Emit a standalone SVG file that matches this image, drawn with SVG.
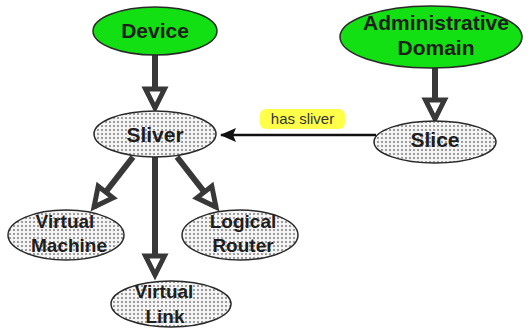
<svg xmlns="http://www.w3.org/2000/svg" width="532" height="329" viewBox="0 0 532 329">
  <style>
    .root { fill: #12e012; stroke: #2a2a2a; stroke-width: 1.5; }
    .part { fill: url(#dots); stroke: #2a2a2a; stroke-width: 1.5; }
    .lbl { font-family: "Liberation Sans", Arial, sans-serif; font-weight: bold; fill: #1e1e1e; text-anchor: middle; }
    .big { font-size: 21px; }
    .small { font-size: 19px; }
    .link { stroke: #383838; stroke-width: 6; fill: none; marker-end: url(#hollow); }
    .rel { stroke: #111; stroke-width: 2.5; fill: none; marker-end: url(#solid); }
    .tag { fill: #ffff4a; }
    .tagtxt { font-family: "Liberation Sans", Arial, sans-serif; font-size: 15px; fill: #333; text-anchor: middle; }
  </style>
  <defs>
    <pattern id="dots" width="4" height="4" patternUnits="userSpaceOnUse">
      <rect width="4" height="4" fill="#f4f4f4"/>
      <circle cx="2" cy="2" r="0.8" fill="#2e2e2e"/>
    </pattern>
    <marker id="hollow" markerUnits="userSpaceOnUse" viewBox="-5 -5 30 30" markerWidth="30" markerHeight="30" refX="19" refY="9.5" orient="auto">
      <path d="M0,0 L19,9.5 L0,19 Z" fill="#fff" stroke="#383838" stroke-width="5" stroke-linejoin="miter"/>
    </marker>
    <marker id="solid" markerUnits="userSpaceOnUse" viewBox="0 0 16 14" markerWidth="16" markerHeight="14" refX="15" refY="7" orient="auto">
      <path d="M0,0 L16,7 L0,14 L3,7 Z" fill="#111"/>
    </marker>
  </defs>

  <rect width="532" height="329" fill="#fff"/>

  <g id="connectors">
    <line class="link" x1="155" y1="55" x2="155" y2="108"/>
    <line class="link" x1="435" y1="68" x2="435" y2="119"/>
    <line class="link" x1="133" y1="157" x2="94" y2="207"/>
    <line class="link" x1="155" y1="157" x2="155" y2="275"/>
    <line class="link" x1="177" y1="157" x2="216" y2="207"/>
    <line class="rel" x1="376" y1="135" x2="221" y2="135"/>
    <g id="has-sliver-label">
      <rect class="tag" x="260" y="109" width="85" height="20" rx="6"/>
      <text class="tagtxt" x="302.5" y="124">has sliver</text>
    </g>
  </g>

  <g id="device">
    <ellipse class="root" cx="155" cy="31" rx="62" ry="24"/>
    <text class="lbl big" x="155" y="38">Device</text>
  </g>

  <g id="admin-domain">
    <ellipse class="root" cx="431" cy="37" rx="91" ry="31"/>
    <text class="lbl big" x="436" y="30">Administrative</text>
    <text class="lbl big" x="436" y="55">Domain</text>
  </g>

  <g id="sliver">
    <ellipse class="part" cx="155" cy="134" rx="61" ry="23"/>
    <text class="lbl big" x="155" y="142">Sliver</text>
  </g>

  <g id="slice">
    <ellipse class="part" cx="435" cy="142" rx="61" ry="21"/>
    <text class="lbl big" x="435" y="147">Slice</text>
  </g>

  <g id="virtual-machine">
    <ellipse class="part" cx="66" cy="235" rx="58" ry="25"/>
    <text class="lbl small" x="65" y="228">Virtual</text>
    <text class="lbl small" x="69" y="252">Machine</text>
  </g>

  <g id="logical-router">
    <ellipse class="part" cx="240" cy="235" rx="58" ry="25"/>
    <text class="lbl small" x="243" y="228">Logical</text>
    <text class="lbl small" x="243" y="252">Router</text>
  </g>

  <g id="virtual-link">
    <ellipse class="part" cx="171" cy="304" rx="60" ry="23"/>
    <text class="lbl small" x="164" y="298">Virtual</text>
    <text class="lbl small" x="165" y="323">Link</text>
  </g>
</svg>
